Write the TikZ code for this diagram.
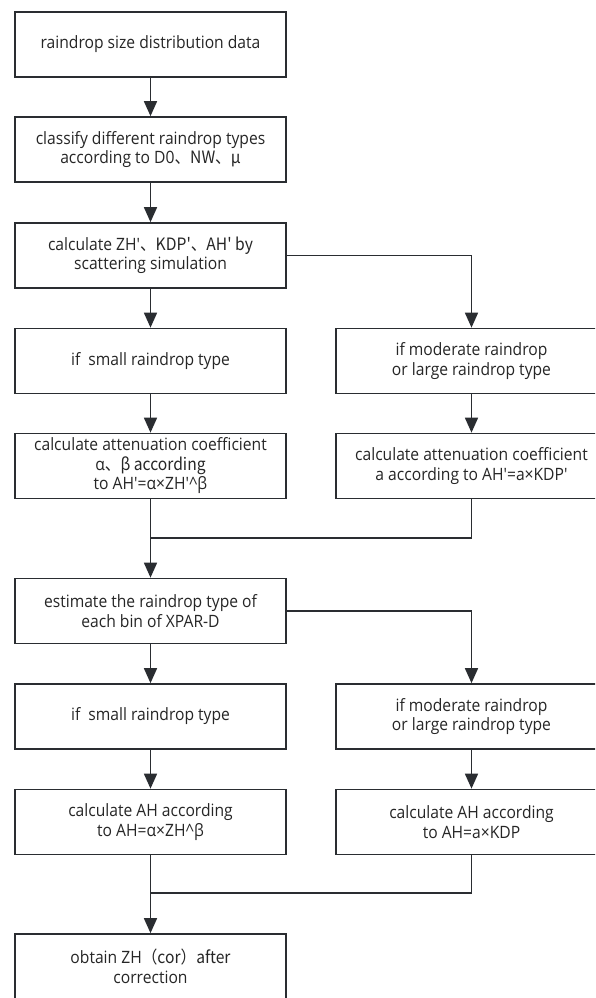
\documentclass[tikz,border=0pt]{standalone}
\usepackage{fontspec}
\setmainfont{Open Sans}[Ligatures=TeXOff,FakeStretch=0.92]
\newfontfamily\cjk{Noto Sans CJK SC}[FakeStretch=0.92]
\usetikzlibrary{arrows.meta}
\definecolor{ln}{HTML}{2A2D31}
\definecolor{tx}{HTML}{262626}
\begin{document}
\begin{tikzpicture}[x=1pt,y=-1pt,
 box/.style={draw=ln,line width=1.7pt,minimum width=271pt,minimum height=65pt,inner sep=0pt,text=tx,align=center,font=\fontsize{17}{19.5}\selectfont},
 arr/.style={draw=ln,line width=1.7pt,-{Triangle[length=15pt,width=13pt]}},
 conn/.style={draw=ln,line width=1.7pt}]
\clip (0,0) rectangle (595,998);
\fill[white] (0,0) rectangle (595,998);
\node[box] (b1) at (150.5,44.5) {raindrop size distribution data};
\node[box] (b2) at (150.5,149.5) {classify different raindrop types\\according to D0\cjk{、}NW\cjk{、}μ};
\node[box] (b3) at (150.5,255.5) {calculate ZH'\cjk{、}KDP'\cjk{、}AH' by\\scattering simulation};
\node[box] (b4) at (150.5,361) {if\ \ small raindrop type};
\node[box] (b5) at (150.5,466) {calculate attenuation coefficient\\α\cjk{、}β according\\to AH'=α×ZH'\^{}β};
\node[box] (b6) at (150.5,611) {estimate the raindrop type of\\each bin of XPAR-D};
\node[box] (b7) at (150.5,716.5) {if\ \ small raindrop type};
\node[box] (b8) at (150.5,822) {calculate AH according\\to AH=α×ZH\^{}β};
\node[box] (b9) at (150.5,966.5) {obtain ZH\cjk{（}cor\cjk{）}after\\correction};
\node[box] (r4) at (471.5,361) {if moderate raindrop\\or large raindrop type};
\node[box] (r5) at (471.5,466) {calculate attenuation coefficient\\a according to AH'=a×KDP'};
\node[box] (r7) at (471.5,716.5) {if moderate raindrop\\or large raindrop type};
\node[box] (r8) at (471.5,822) {calculate AH according\\to AH=a×KDP};
\coordinate (m1) at (150.5,538);
\coordinate (m2) at (150.5,893);
\draw[arr] (b1) -- (b2);
\draw[arr] (b2) -- (b3);
\draw[arr] (b3) -- (b4);
\draw[arr] (b4) -- (b5);
\draw[arr] (b3.east) -| (r4);
\draw[arr] (r4) -- (r5);
\draw[conn] (r5.south) |- (m1);
\draw[arr] (b5) -- (b6);
\draw[arr] (b6) -- (b7);
\draw[arr] (b7) -- (b8);
\draw[arr] (b6.east) -| (r7);
\draw[arr] (r7) -- (r8);
\draw[conn] (r8.south) |- (m2);
\draw[arr] (b8) -- (b9);
\end{tikzpicture}
\end{document}
